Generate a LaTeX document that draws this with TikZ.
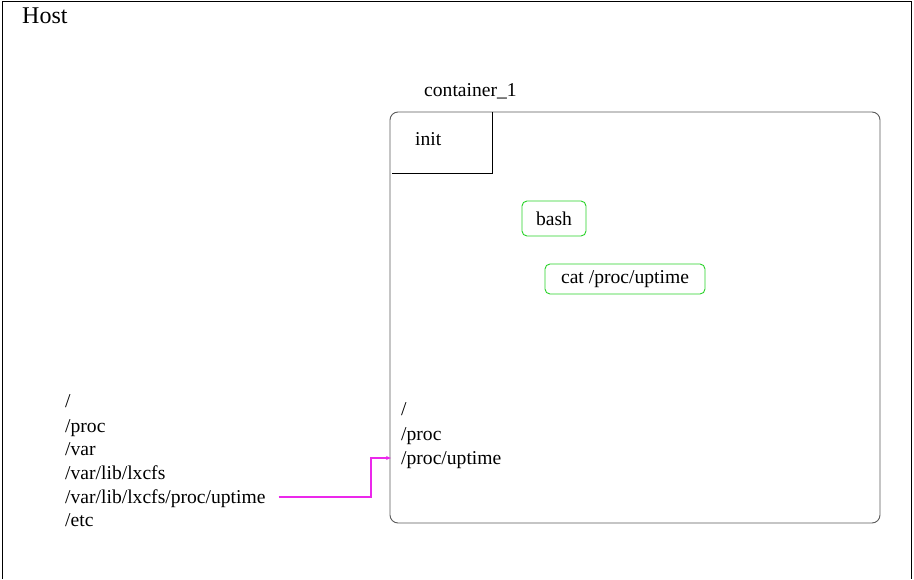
\documentclass[tikz,border=0pt]{standalone}
\usepackage{fontspec}
\setmainfont{Liberation Serif}
\usetikzlibrary{arrows.meta,positioning}
\definecolor{procgreen}{RGB}{40,210,40}
\definecolor{linkpink}{RGB}{235,40,235}
\definecolor{framegray}{RGB}{90,90,90}
\tikzset{
  label text/.style={anchor=west,inner sep=0pt,yshift=-4pt,text height=0.7em,text depth=0.22em,font=\fontsize{19.6}{22}\selectfont},
  proc/.style={draw=procgreen,rounded corners=5pt,line width=0.9pt,inner sep=0pt,font=\fontsize{19.6}{22}\selectfont},
  link/.style={draw=linkpink,line width=1.1pt,-{Stealth[length=5pt,width=4pt]}}
}
\begin{document}
\begin{tikzpicture}[x=1pt,y=-1pt]
\useasboundingbox(0,0)rectangle(914,579);
% host frame, cut off at the bottom
\draw[line width=1pt](2,579)--(2,1.5)--(911.5,1.5)--(911.5,579);
\node[label text,font=\fontsize{24}{28}\selectfont](host)at(22,17){Host};
% container
\node[label text](ctname)at(424,90){container\_1};
\draw[framegray,line width=0.9pt,rounded corners=8pt](390,112)rectangle(880,523);
\draw[line width=0.9pt](392,173)-|(492,112);
\node[label text](init)at(415,139){init};
\node[proc,minimum width=64pt,minimum height=35pt](bash)at(554,218.5){bash};
\node[proc,minimum width=160pt,minimum height=30pt](cat)at(625,279){cat /proc/uptime};
% container view
\node[label text](ctroot)at(401,409){/};
\node[label text](ctproc)at(401,434){/proc};
\node[label text](ctuptime)at(401,458){/proc/uptime};
% host view
\node[label text](hostroot)at(65,401){/};
\node[label text](hostproc)at(65,426){/proc};
\node[label text](hostvar)at(65,449){/var};
\node[label text](hostlxcfs)at(65,473){/var/lib/lxcfs};
\node[label text](hostuptime)at(65,497){/var/lib/lxcfs/proc/uptime};
\node[label text](hostetc)at(65,520){/etc};
\draw[link]([xshift=13pt,yshift=4pt]hostuptime.east)-|([xshift=-30pt,yshift=4pt]ctuptime.west)--([xshift=-10pt,yshift=4pt]ctuptime.west);
\end{tikzpicture}
\end{document}
